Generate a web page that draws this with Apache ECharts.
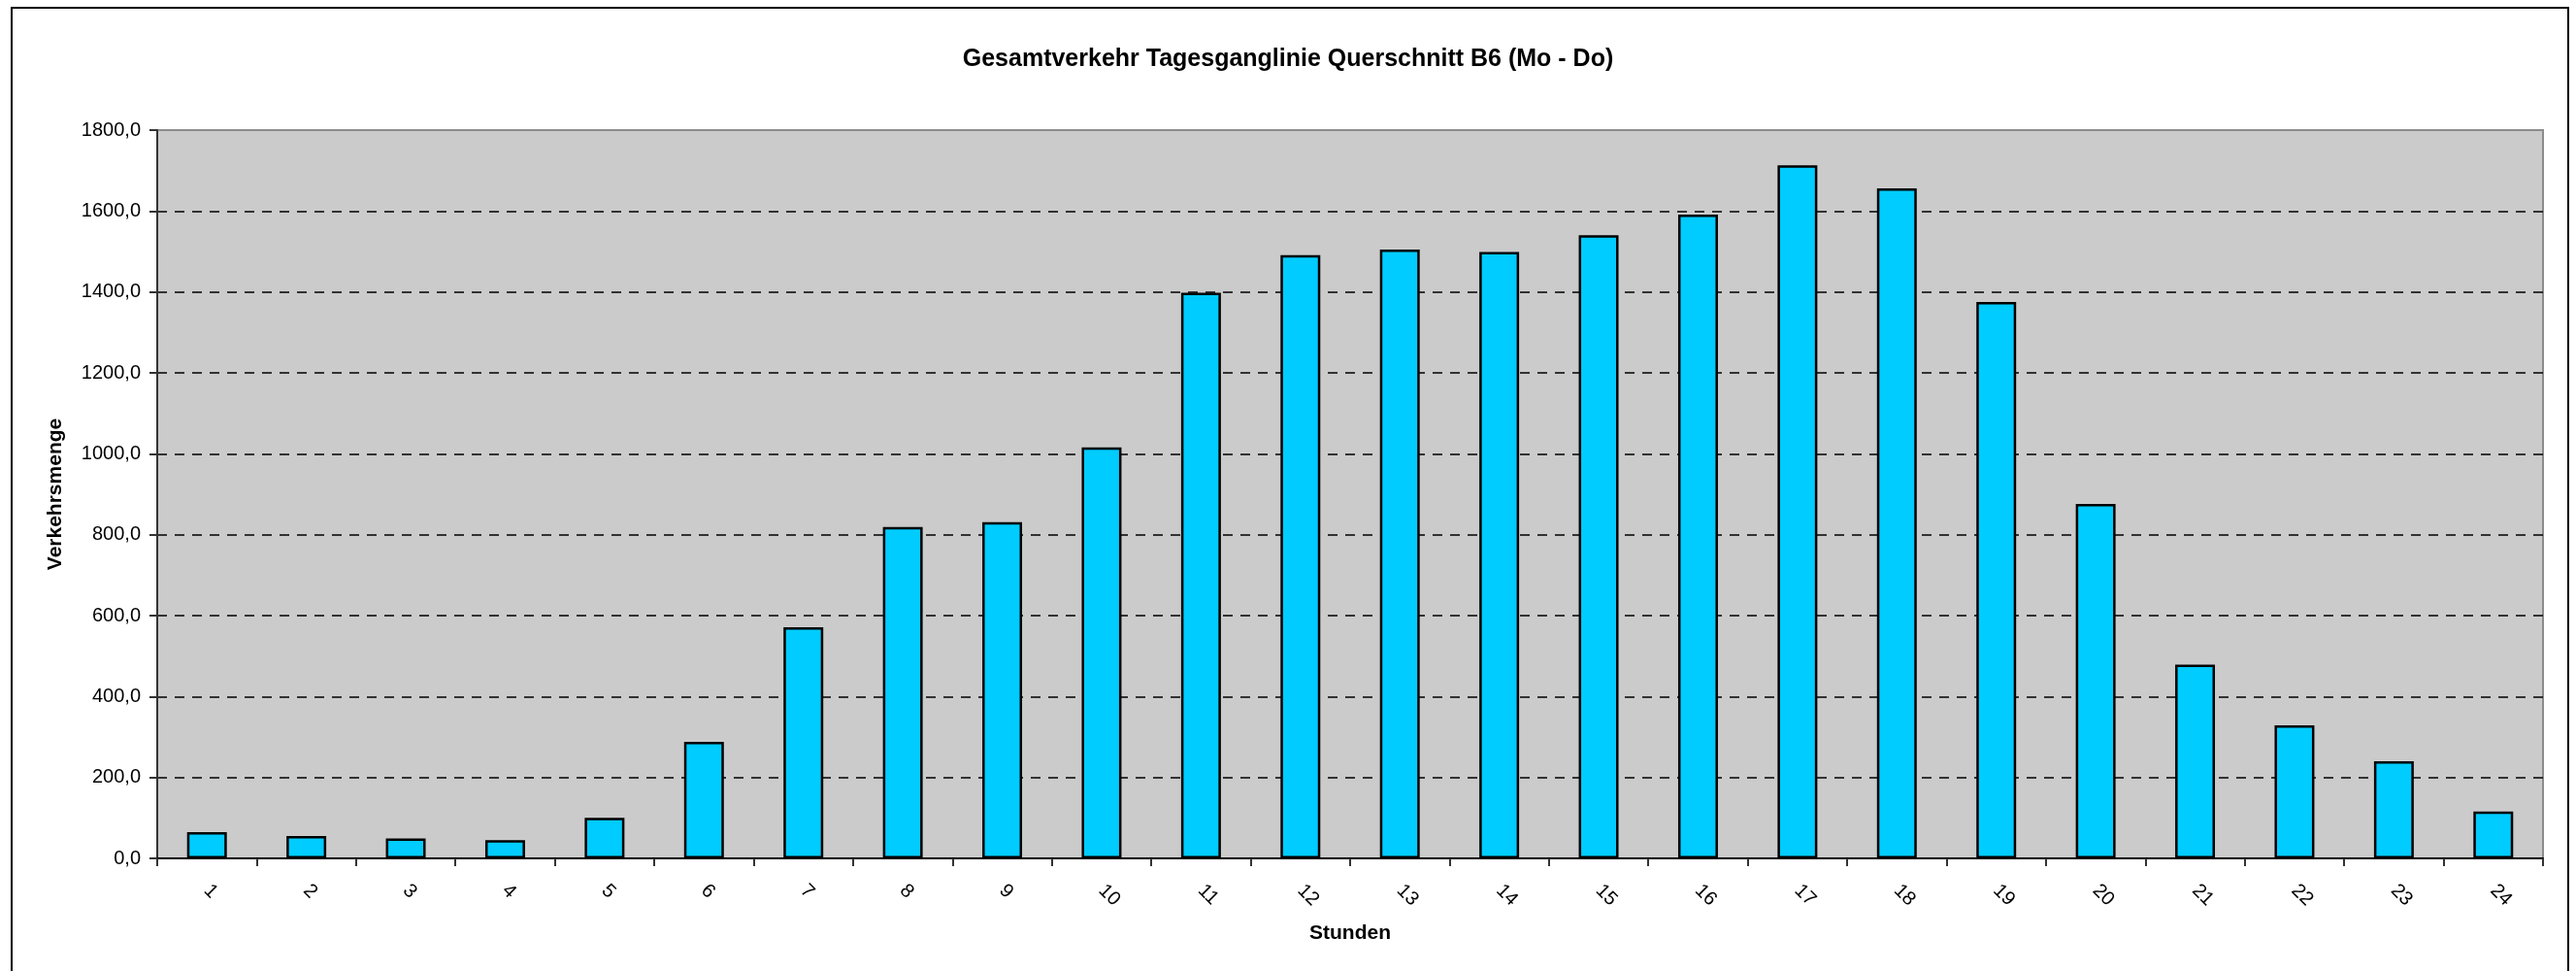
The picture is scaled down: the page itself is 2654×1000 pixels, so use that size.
<!DOCTYPE html>
<html>
<head>
<meta charset="utf-8">
<script src="https://cdn.jsdelivr.net/npm/echarts@6/dist/echarts.min.js"></script>
<style>
html, body { margin: 0; padding: 0; background: #fff; }
#chart { width: 2654px; height: 1000px; }
</style>
</head>
<body>
<div id="chart"></div>
<script>
// Stunden 1..24
var stunden = ['1','2','3','4','5','6','7','8','9','10','11','12',
               '13','14','15','16','17','18','19','20','21','22','23','24'];
// Verkehrsmenge je Stunde
var verkehrsmenge = [65, 55, 49, 45, 100, 288, 571, 819, 831, 1016, 1398, 1491,
                     1505, 1499, 1540, 1591, 1713, 1656, 1375, 876, 479, 329, 240, 116];

var titel = 'Gesamtverkehr Tagesganglinie Querschnitt B6 (Mo - Do)';
var fontName = 'Liberation Sans, Arial, sans-serif';

// dashed gridlines; the one at 1800 is hidden, the plot border sits there
var gitterFarben = ['#000','#000','#000','#000','#000','#000','#000','#000','#000','rgba(0,0,0,0)'];

var chart = echarts.init(document.getElementById('chart'), null, { renderer: 'canvas' });

var option = {
    animation: false,
    backgroundColor: '#fff',
    title: {
        text: titel,
        left: 'center',
        top: 44,
        textStyle: { fontFamily: fontName, fontSize: 25, fontWeight: 'bold', color: '#000' }
    },
    graphic: [{
        type: 'rect',
        shape: { x: 12, y: 8, width: 2634, height: 1010 },
        style: { fill: 'none', stroke: '#000', lineWidth: 2 },
        silent: true
    }],
    grid: {
        left: 162, right: 34, top: 134, bottom: 116,
        show: true,
        backgroundColor: '#cbcbcb',
        borderColor: '#8c8c8c',
        borderWidth: 2
    },
    xAxis: {
        type: 'category',
        data: stunden,
        name: 'Stunden',
        nameLocation: 'middle',
        nameGap: 67,
        nameTextStyle: { fontFamily: fontName, fontSize: 21, fontWeight: 'bold', color: '#000' },
        axisLine: { lineStyle: { color: '#000', width: 2 } },
        axisTick: { show: true, alignWithLabel: false, length: 8, lineStyle: { color: '#333', width: 2 } },
        axisLabel: { rotate: -45, margin: 30, fontFamily: fontName, fontSize: 20, color: '#000' },
        splitLine: { show: false }
    },
    yAxis: {
        type: 'value',
        min: 0, max: 1800, interval: 200,
        name: 'Verkehrsmenge',
        nameLocation: 'middle',
        nameGap: 94,
        nameRotate: 90,
        nameTextStyle: { fontFamily: fontName, fontSize: 21, fontWeight: 'bold', color: '#000' },
        axisLine: { show: true, lineStyle: { color: '#333', width: 2 } },
        axisTick: { show: true, length: 8, lineStyle: { color: '#333', width: 2 } },
        axisLabel: {
            margin: 17, fontFamily: fontName, fontSize: 20, color: '#000',
            formatter: function (v) { return v.toFixed(1).replace('.', ','); }
        },
        splitLine: { show: true, lineStyle: { color: gitterFarben, width: 1.5, type: [10, 8] } }
    },
    series: [{
        type: 'bar',
        data: verkehrsmenge,
        barWidth: '40%',
        itemStyle: { color: '#00ccff', borderColor: '#000', borderWidth: 2.5 }
    }]
};

chart.setOption(option);
</script>
</body>
</html>
